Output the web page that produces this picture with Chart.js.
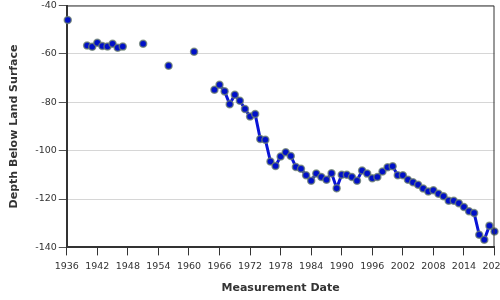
<!DOCTYPE html>
<html>
<head>
<meta charset="utf-8">
<script src="https://cdn.jsdelivr.net/npm/chart.js@4/dist/chart.umd.min.js"></script>
<style>
  html, body { margin: 0; padding: 0; background: #fff; overflow: hidden; }
  #wrap { width: 500px; height: 300px; position: relative; }
</style>
</head>
<body>
<div id="wrap"><canvas id="chart"></canvas></div>
<script>
// measurement years and depth below land surface (null = gap in record)
const years = [1936.2, 1938, 1940, 1941, 1942, 1943, 1944, 1945, 1946, 1947, 1949,
  1951, 1953, 1956, 1958, 1961, 1963,
  1965, 1966, 1967, 1968, 1969, 1970, 1971, 1972, 1973, 1974, 1975, 1976, 1977, 1978, 1979,
  1980, 1981, 1982, 1983, 1984, 1985, 1986, 1987, 1988, 1989, 1990, 1991, 1992, 1993, 1994,
  1995, 1996, 1997, 1998, 1999, 2000, 2001, 2002, 2003, 2004, 2005, 2006, 2007, 2008, 2009,
  2010, 2011, 2012, 2013, 2014, 2015, 2016, 2017, 2018, 2019, 2020];
const depths = [-46, null, -56.5, -57.1, -55.4, -56.7, -56.9, -55.8, -57.5, -57, null,
  -55.8, null, -64.9, null, -59.1, null,
  -74.8, -72.8, -75.5, -80.8, -76.9, -79.4, -82.8, -85.9, -84.9, -95.2, -95.5, -104.5, -106.3, -102.4, -100.7,
  -102.2, -106.8, -107.5, -110.2, -112.4, -109.5, -110.9, -112, -109.3, -115.5, -110, -110, -110.9, -112.4, -108.2,
  -109.5, -111.4, -110.9, -108.6, -106.9, -106.5, -110.2, -110.2, -112, -113.1, -114.1, -115.7, -116.9, -116.4, -117.8,
  -118.9, -120.7, -120.7, -121.7, -123.3, -125.1, -125.8, -134.8, -136.8, -131, -133.4];

const yTicks = [-140, -120, -100, -80, -60, -40];
const xTickStart = 1936;
const xTickEnd = 2020;
const xTickStep = 6;

const textColor = "#333333";
const fontFamily = "'DejaVu Sans', Verdana, sans-serif";

// thin frame on top and right of the plot area
const framePlugin = {
  id: "frame",
  afterDatasetsDraw(chart) {
    const { ctx, chartArea: a } = chart;
    ctx.save();
    ctx.strokeStyle = "#333333";
    ctx.lineWidth = 1;
    ctx.beginPath();
    ctx.moveTo(a.left, a.top + 0.5);
    ctx.lineTo(a.right - 0.5, a.top + 0.5);
    ctx.lineTo(a.right - 0.5, a.bottom);
    ctx.stroke();
    ctx.restore();
  },
};

new Chart(document.getElementById("chart"), {
  type: "line",
  data: {
    datasets: [{
      data: years.map((x, i) => ({ x: x, y: depths[i] })),
      borderColor: "#0a14d6",
      borderWidth: 3,
      pointBackgroundColor: "#0010c8",
      pointBorderColor: "rgba(110,130,110,0.75)",
      pointBorderWidth: 1.5,
      pointRadius: 3.5,
      spanGaps: false,
      tension: 0,
      clip: false,
    }],
  },
  options: {
    responsive: true,
    maintainAspectRatio: false,
    animation: false,
    layout: { padding: { top: 4, right: 4, left: 8, bottom: 5 } },
    plugins: {
      legend: { display: false },
      tooltip: { enabled: false },
    },
    scales: {
      x: {
        type: "linear",
        min: xTickStart,
        max: xTickEnd,
        afterBuildTicks(scale) {
          const t = [];
          for (let v = xTickStart; v <= xTickEnd; v += xTickStep) t.push({ value: v });
          scale.ticks = t;
        },
        afterFit(scale) { scale.paddingRight = 0; },
        grid: {
          drawOnChartArea: false,
          drawTicks: true,
          tickLength: 8,
          tickColor: "#333333",
          tickWidth: 1,
        },
        border: { color: "#333333", width: 2 },
        ticks: {
          color: textColor,
          font: { family: fontFamily, size: 9.5 },
          padding: 5,
          maxRotation: 0,
          autoSkip: false,
          callback: (v) => String(v),
        },
        title: {
          display: true,
          text: "Measurement Date",
          color: textColor,
          font: { family: fontFamily, size: 11, weight: "bold" },
          padding: { top: 5, bottom: 0 },
        },
      },
      y: {
        min: yTicks[0],
        max: yTicks[yTicks.length - 1],
        afterBuildTicks(scale) {
          scale.ticks = yTicks.map((v) => ({ value: v }));
        },
        afterFit(scale) { scale.paddingTop = 0; },
        grid: {
          color: "#d6d6d6",
          tickColor: "#555555",
          tickLength: 8,
          lineWidth: 1,
        },
        border: { color: "#333333", width: 2 },
        ticks: {
          color: textColor,
          font: { family: fontFamily, size: 9.5 },
          padding: 2,
        },
        title: {
          display: true,
          text: "Depth Below Land Surface",
          color: textColor,
          font: { family: fontFamily, size: 11, weight: "bold" },
          padding: { top: 0, bottom: 12 },
        },
      },
    },
  },
  plugins: [framePlugin],
});
</script>
</body>
</html>
